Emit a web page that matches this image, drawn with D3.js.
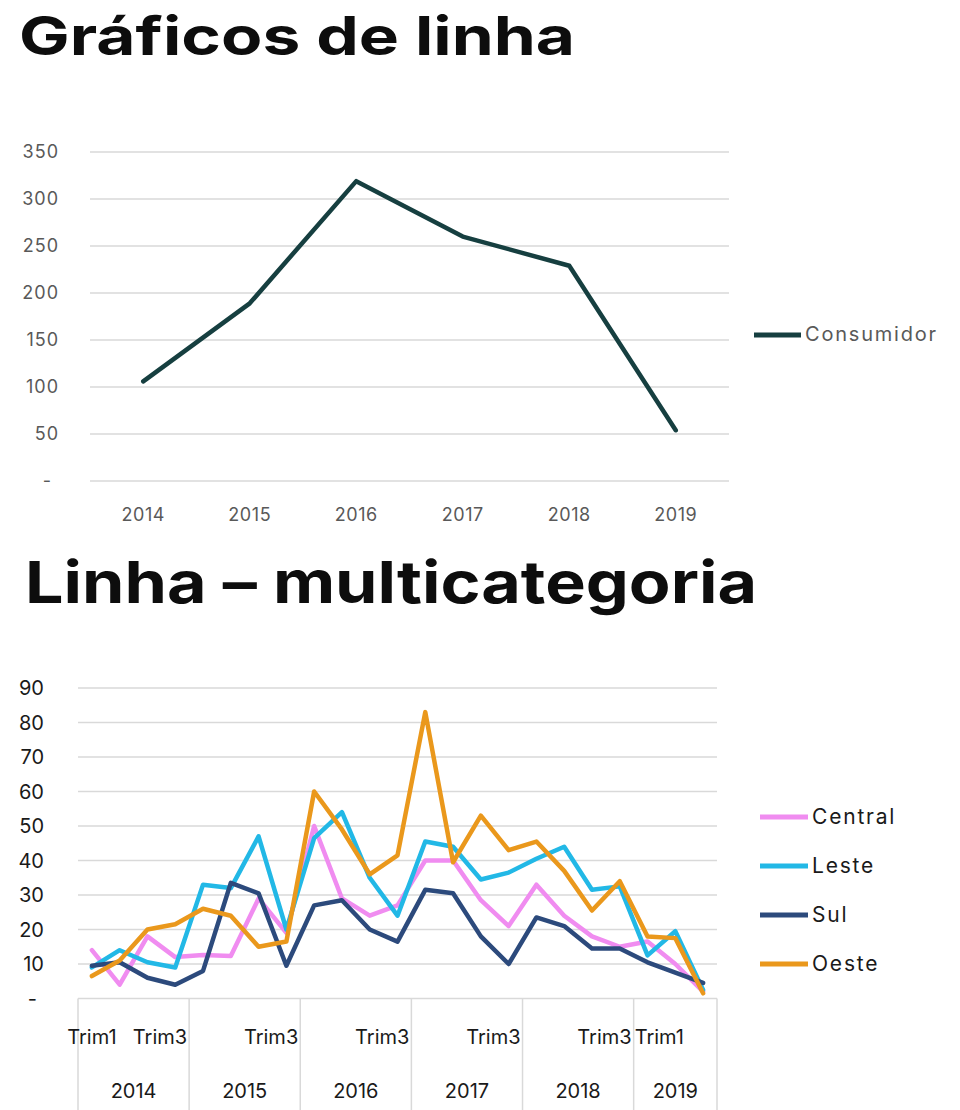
<!DOCTYPE html>
<html>
<head>
<meta charset="utf-8">
<script src="https://cdn.jsdelivr.net/npm/d3@7"></script>
<style>
  body { margin: 0; background: #fff; }
  svg { display: block; font-family: Inter, "Noto Sans", sans-serif; }
  .title { font-weight: 700; fill: #0d0d0d; }
</style>
</head>
<body>
<svg width="960" height="1110"></svg>
<script>
// ---- data: chart 1 ----
const years = ['2014', '2015', '2016', '2017', '2018', '2019'];
const consumidor = [106, 189, 319, 260, 229, 54];
const ticks1 = [0, 50, 100, 150, 200, 250, 300, 350];

// ---- data: chart 2 (trimestres) ----
const qYears = ['2014','2014','2014','2014','2015','2015','2015','2015','2016','2016','2016','2016',
                '2017','2017','2017','2017','2018','2018','2018','2018','2019','2019','2019'];
const qNames = ['Trim1','Trim2','Trim3','Trim4','Trim1','Trim2','Trim3','Trim4','Trim1','Trim2','Trim3','Trim4',
                'Trim1','Trim2','Trim3','Trim4','Trim1','Trim2','Trim3','Trim4','Trim1','Trim2','Trim3'];
const central = [14, 4, 18, 12, 12.6, 12.3, 29, 19, 50, 29, 24, 27, 40, 40, 28.5, 21, 33, 24, 18, 15, 16.5, 10, 2];
const leste   = [9, 14, 10.5, 9, 33, 32, 47, 20, 46.5, 54, 35, 24, 45.5, 44, 34.5, 36.5, 40.5, 44, 31.5, 32.5, 12.5, 19.5, 2.5];
const sul     = [9.5, 10.5, 6, 4, 8, 33.5, 30.5, 9.5, 27, 28.5, 20, 16.5, 31.5, 30.5, 18, 10, 23.5, 21, 14.5, 14.5, 10.5, 7.5, 4.5];
const oeste   = [6.5, 11, 20, 21.5, 26, 24, 15, 16.5, 60, 49, 36, 41.5, 83, 39.5, 53, 43, 45.5, 37, 25.5, 34, 18, 17.5, 1.5];
const seriesNames = ['Central', 'Leste', 'Sul', 'Oeste'];
const seriesColors = ['#f08cf0', '#22b8e6', '#2c4a7c', '#ea981c'];
const ticks2 = [0, 10, 20, 30, 40, 50, 60, 70, 80, 90];

const svg = d3.select('svg');
const gridColor = '#d9d9d9';

// titles
svg.append('text').attr('class', 'title').attr('x', 19).attr('y', 55)
  .attr('font-size', 54).attr('textLength', 556).attr('lengthAdjust', 'spacingAndGlyphs')
  .text('Gráficos de linha');
svg.append('text').attr('class', 'title').attr('x', 25).attr('y', 603)
  .attr('font-size', 58).attr('textLength', 732).attr('lengthAdjust', 'spacingAndGlyphs')
  .text('Linha – multicategoria');

// ================= chart 1 =================
const x1 = d3.scaleBand().domain(years).range([90, 729]);
const y1 = d3.scaleLinear().domain([0, 350]).range([481, 152]);

const g1 = svg.append('g');
g1.selectAll('.grid1').data(ticks1).enter().append('line')
  .attr('x1', 90).attr('x2', 729)
  .attr('y1', d => y1(d)).attr('y2', d => y1(d))
  .attr('stroke', gridColor).attr('stroke-width', 1.5);

g1.selectAll('.ylab1').data(ticks1).enter().append('text')
  .attr('x', d => d === 0 ? 52 : 59).attr('y', d => y1(d)).attr('dy', '0.35em')
  .attr('text-anchor', 'end').attr('font-size', 18).attr('letter-spacing', 1).attr('fill', '#595959')
  .text(d => d === 0 ? '-' : d);

g1.selectAll('.xlab1').data(years).enter().append('text')
  .attr('x', d => x1(d) + x1.bandwidth() / 2).attr('y', 521)
  .attr('text-anchor', 'middle').attr('font-size', 18).attr('letter-spacing', 0.6).attr('fill', '#595959')
  .text(d => d);

const line1 = d3.line()
  .x((d, i) => x1(years[i]) + x1.bandwidth() / 2)
  .y(d => y1(d));
g1.append('path').datum(consumidor)
  .attr('d', line1).attr('fill', 'none')
  .attr('stroke', '#163f40').attr('stroke-width', 4.5)
  .attr('stroke-linejoin', 'round').attr('stroke-linecap', 'round');

// legend 1
g1.append('line').attr('x1', 754).attr('x2', 801).attr('y1', 335).attr('y2', 335)
  .attr('stroke', '#163f40').attr('stroke-width', 5);
g1.append('text').attr('x', 805).attr('y', 334).attr('dy', '0.35em')
  .attr('font-size', 20).attr('letter-spacing', 1.8).attr('fill', '#595959').text('Consumidor');

// ================= chart 2 =================
const qKeys = qYears.map((y, i) => y + '-' + qNames[i]);
const x2 = d3.scaleBand().domain(qKeys).range([78, 717]);
const y2 = d3.scaleLinear().domain([0, 90]).range([998.5, 688]);
const g2 = svg.append('g');

g2.selectAll('.grid2').data(ticks2.slice(1)).enter().append('line')
  .attr('x1', 78).attr('x2', 717)
  .attr('y1', d => y2(d)).attr('y2', d => y2(d))
  .attr('stroke', gridColor).attr('stroke-width', 1.5);

g2.selectAll('.ylab2').data(ticks2).enter().append('text')
  .attr('x', d => d === 0 ? 37 : 44).attr('y', d => y2(d)).attr('dy', '0.35em')
  .attr('text-anchor', 'end').attr('font-size', 20).attr('fill', '#1a1a1a')
  .text(d => d === 0 ? '-' : d);

// category axis: baseline and year separators
g2.append('line').attr('x1', 78).attr('x2', 717).attr('y1', y2(0)).attr('y2', y2(0))
  .attr('stroke', gridColor).attr('stroke-width', 1.5);
const yearGroups = d3.groups(qKeys, k => k.split('-')[0]);
const bounds = yearGroups.map(([yr, ks]) => ({ yr, x0: x2(ks[0]), x1: x2(ks[ks.length - 1]) + x2.bandwidth() }));
const sepX = [bounds[0].x0].concat(bounds.map(b => b.x1));
g2.selectAll('.sep').data(sepX).enter().append('line')
  .attr('x1', d => d).attr('x2', d => d).attr('y1', y2(0)).attr('y2', 1110)
  .attr('stroke', gridColor).attr('stroke-width', 1.5);

g2.selectAll('.ylabYear').data(bounds).enter().append('text')
  .attr('x', d => (d.x0 + d.x1) / 2).attr('y', 1098)
  .attr('text-anchor', 'middle').attr('font-size', 20).attr('fill', '#1a1a1a')
  .text(d => d.yr);

// quarter labels that remain visible (Excel skips the crowded ones)
const shownQ = [
  { k: '2014-Trim1', anchor: 'middle' },
  { k: '2014-Trim3', anchor: 'end' },
  { k: '2015-Trim3', anchor: 'end' },
  { k: '2016-Trim3', anchor: 'end' },
  { k: '2017-Trim3', anchor: 'end' },
  { k: '2018-Trim3', anchor: 'end' },
  { k: '2019-Trim1', anchor: 'start' }
];
g2.selectAll('.qlab').data(shownQ).enter().append('text')
  .attr('x', d => {
    const [yr] = d.k.split('-');
    const b = bounds.find(bb => bb.yr === yr);
    if (d.anchor === 'end') return b.x1 - 2;
    if (d.anchor === 'start') return b.x0 + 1;
    return x2(d.k) + x2.bandwidth() / 2;
  })
  .attr('y', 1044).attr('text-anchor', d => d.anchor)
  .attr('font-size', 20).attr('fill', '#1a1a1a')
  .text(d => d.k.split('-')[1]);

const line2 = d3.line()
  .x((d, i) => x2(qKeys[i]) + x2.bandwidth() / 2)
  .y(d => y2(d));
const allSeries = [central, leste, sul, oeste];
g2.selectAll('.series').data(allSeries).enter().append('path')
  .attr('d', line2).attr('fill', 'none')
  .attr('stroke', (d, i) => seriesColors[i]).attr('stroke-width', 4.5)
  .attr('stroke-linejoin', 'round').attr('stroke-linecap', 'round');

// legend 2
const leg = g2.selectAll('.leg').data(seriesNames).enter().append('g')
  .attr('transform', (d, i) => `translate(0, ${817 + i * 49})`);
leg.append('line').attr('x1', 760).attr('x2', 808).attr('y1', 0).attr('y2', 0)
  .attr('stroke', (d, i) => seriesColors[i]).attr('stroke-width', 5);
leg.append('text').attr('x', 812).attr('dy', '0.35em')
  .attr('font-size', 21).attr('letter-spacing', 1.8).attr('fill', '#1a1a1a').text(d => d);
</script>
</body>
</html>
